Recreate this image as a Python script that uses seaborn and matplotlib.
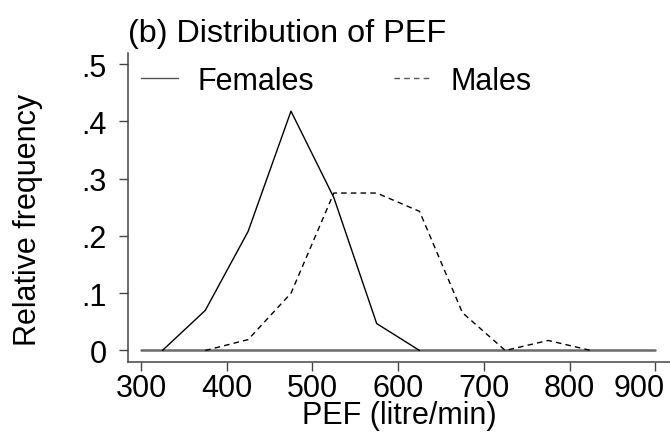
import matplotlib
matplotlib.use("Agg")
import matplotlib.pyplot as plt
import matplotlib.transforms as mtransforms
import seaborn as sns
import pandas as pd

# ---- data ----
female_pef = [325, 375, 425, 475, 525, 575, 625]
female_freq = [0.0, 0.070, 0.208, 0.418, 0.267, 0.047, 0.0]

male_pef = [375, 425, 475, 525, 575, 625, 675, 725, 775, 825]
male_freq = [0.0, 0.019, 0.100, 0.275, 0.275, 0.243, 0.066, 0.0, 0.0175, 0.0]

baseline_x = [300, 900]
baseline_y = [0.0, 0.0]

xticks = [300, 400, 500, 600, 700, 800, 900]
yticks = [0, 0.1, 0.2, 0.3, 0.4, 0.5]
ytick_labels = ["0", ".1", ".2", ".3", ".4", ".5"]

title = "(b) Distribution of PEF"
xlabel = "PEF (litre/min)"
ylabel = "Relative frequency"

sns.set_theme(style="white")
plt.rcParams["font.family"] = ["Liberation Sans", "DejaVu Sans"]
plt.rcParams["text.color"] = "black"
plt.rcParams["axes.labelcolor"] = "black"

FS = 22

fig = plt.figure(figsize=(6.7, 4.35), dpi=100)
ax = fig.add_axes([127.7 / 670, 1 - 362.7 / 435, (670 - 127.7) / 670, (362.7 - 54) / 435])

df_f = pd.DataFrame({"x": female_pef, "y": female_freq})
df_m = pd.DataFrame({"x": male_pef, "y": male_freq})
df_b = pd.DataFrame({"x": baseline_x, "y": baseline_y})

sns.lineplot(data=df_b, x="x", y="y", ax=ax, color="#6a6a6a", lw=1.8, legend=False)
sns.lineplot(data=df_f, x="x", y="y", ax=ax, color="black", lw=1.0, label="Females")
sns.lineplot(data=df_m, x="x", y="y", ax=ax, color="black", lw=1.0,
             linestyle=(0, (4, 3)), label="Males")

ax.set_xlim(284.5, 917.2)
ax.set_ylim(-0.0196, 0.5196)
ax.set_xticks(xticks)
ax.set_xticklabels([str(v) for v in xticks])
ax.set_yticks(yticks)
ax.set_yticklabels(ytick_labels)

for s in ["top", "right"]:
    ax.spines[s].set_visible(False)
for s in ["left", "bottom"]:
    ax.spines[s].set_color("#444444")
    ax.spines[s].set_linewidth(1.1)

ax.tick_params(axis="both", which="major", direction="out", length=6.3, width=1.0,
               color="#444444", labelsize=FS, labelcolor="black",
               left=True, bottom=True)
ax.tick_params(axis="y", pad=9)
ax.tick_params(axis="x", pad=2)

# last x tick label sits shifted left so it fits inside the image
last = ax.get_xticklabels()[-1]
last.set_horizontalalignment("right")
last.set_transform(last.get_transform() + mtransforms.ScaledTranslation(9 / 100, 0, fig.dpi_scale_trans))

ax.set_xlabel(xlabel, fontsize=FS, labelpad=-2, color="black")
ax.set_ylabel(ylabel, fontsize=FS, color="black")
ax.yaxis.set_label_coords((43 - 127.7) / 542.3, (362.7 - 220) / 308.7)
fig.text(128 / 670, 1 - 34 / 435, title, fontsize=23.3, ha="left", va="center", color="black")

leg = ax.legend(loc="center left", bbox_to_anchor=(0.0, (362.7 - 81.7) / 308.7), ncol=2,
                frameon=False, fontsize=FS, handlelength=1.2, handletextpad=0.65,
                columnspacing=2.6, borderpad=0, borderaxespad=0.45)
for t in leg.get_texts():
    t.set_color("black")
for h in leg.get_lines():
    h.set_color("#555555")

fig.savefig("out.png", dpi=100)
